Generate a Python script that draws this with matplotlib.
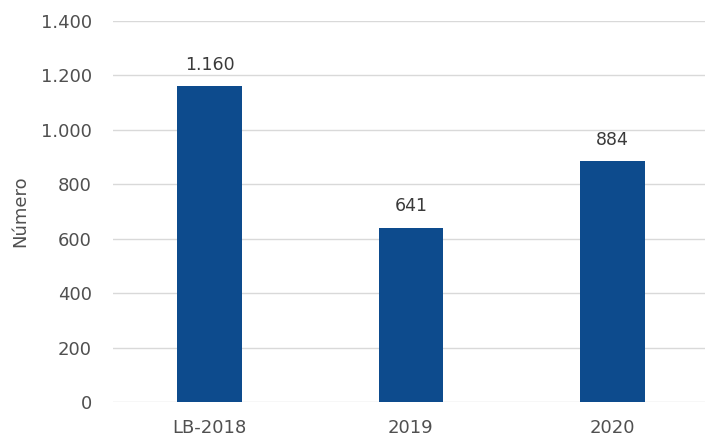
import matplotlib.pyplot as plt
from matplotlib.ticker import FuncFormatter

categories = ['LB-2018', '2019', '2020']
values = [1160, 641, 884]
yticks = [0, 200, 400, 600, 800, 1000, 1200, 1400]

plt.rcParams['font.family'] = ['DejaVu Sans']


def fmt(v, pos=None):
    return f"{int(v):,}".replace(",", ".")


fig = plt.figure(figsize=(7.05, 4.37), dpi=100)
ax = fig.add_axes([0.160, 0.080, 0.840, 0.872])

x = range(len(categories))
bars = ax.bar(x, values, width=0.32, color='#0d4b8d', zorder=3)

for b, v in zip(bars, values):
    ax.annotate(fmt(v), (b.get_x() + b.get_width() / 2, v),
                xytext=(0, 9), textcoords='offset points',
                ha='center', va='bottom', fontsize=12.5, color='#3a3a3a')

ax.set_xlim(-0.48, 2.46)
ax.set_ylim(0, 1400)
ax.set_yticks(yticks)
ax.yaxis.set_major_formatter(FuncFormatter(fmt))
ax.set_xticks(list(x))
ax.set_xticklabels(categories)
ax.grid(axis='y', color='#d9d9d9', linewidth=1, zorder=0)
ax.tick_params(axis='both', length=0, labelsize=13, labelcolor='#505050')
ax.tick_params(axis='y', pad=15)
ax.tick_params(axis='x', pad=12)
for s in ax.spines.values():
    s.set_visible(False)

ax.set_ylabel('Número', fontsize=13, color='#505050', labelpad=8)

plt.savefig('out.png', dpi=100)
